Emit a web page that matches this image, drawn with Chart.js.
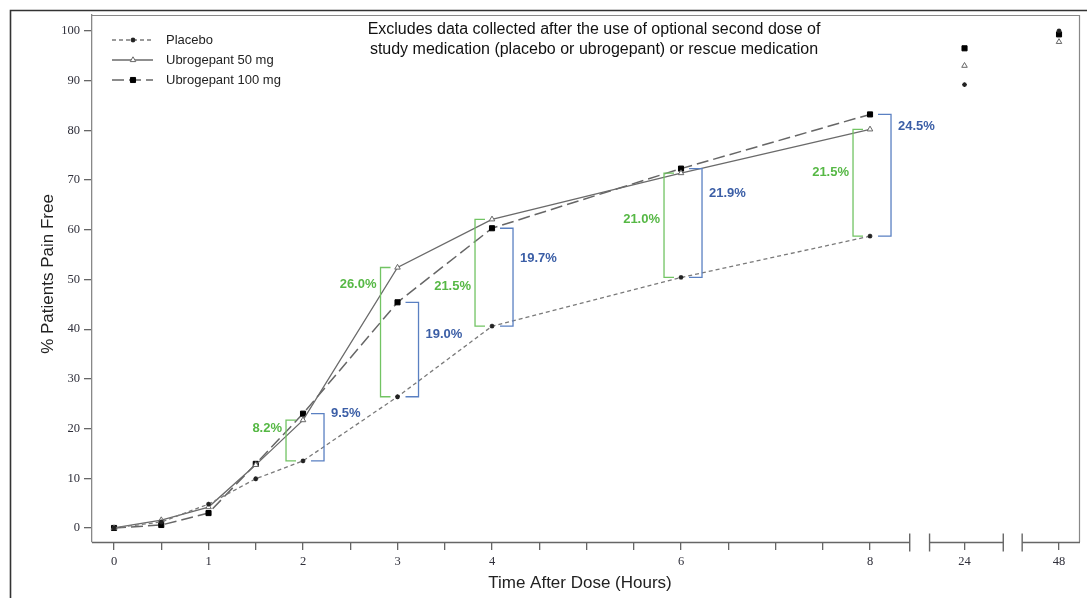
<!DOCTYPE html>
<html>
<head>
<meta charset="utf-8">
<title>Pain freedom over time</title>
<script src="https://cdn.jsdelivr.net/npm/chart.js@4/dist/chart.umd.min.js"></script>
<style>
  body { margin: 0; background: #fff; }
  #wrap { width: 1087px; height: 598px; position: relative; }
</style>
</head>
<body>
<div id="wrap"><canvas id="painFree" width="1087" height="598"></canvas></div>
<script>
// hours after dose; 24 h and 48 h sit past the axis break
const hours = [0, 0.5, 1, 1.5, 2, 3, 4, 6, 8, 24, 48];
const placebo = [0, 1.2, 4.8, 9.9, 13.5, 26.4, 40.6, 50.4, 58.7, 89.2, 100];
const ubro50 = [0, 1.6, 4.2, 12.7, 21.7, 52.4, 62.1, 71.4, 80.2, 93.0, 97.8];
const ubro100 = [0, 0.6, 3.0, 12.9, 23.0, 45.4, 60.3, 72.3, 83.2, 96.5, 99.3];

// treatment differences vs placebo
const compareHours = [2, 3, 4, 6, 8];
const diff50 = ['8.2%', '26.0%', '21.5%', '21.0%', '21.5%'];
const diff100 = ['9.5%', '19.0%', '19.7%', '21.9%', '24.5%'];

const xTickLabels = { 0: '0', 1: '1', 2: '2', 3: '3', 4: '4', 6: '6', 8: '8', 9: '24', 10: '48' };
const yTicks = [0, 10, 20, 30, 40, 50, 60, 70, 80, 90, 100];

const titleLines = [
  'Excludes data collected after the use of optional second dose of',
  'study medication (placebo or ubrogepant) or rescue medication'
];

// axis position: linear up to 8 h, then one slot per late time point
const lateHours = [24, 48];
const axisPos = h => (h <= 8 ? h : 9 + lateHours.indexOf(h));
const toPoints = vals => vals.map((v, i) => ({ x: axisPos(hours[i]), y: v }));

const GREEN = '#56b845', GREEN_LINE = '#72c463';
const BLUE = '#3b5ea6', BLUE_LINE = '#5a80c2';
const SANS = '"Liberation Sans", Arial, sans-serif';
const SERIF = '"Liberation Serif", "Times New Roman", serif';

// label placement along each bracket (0 = top, 1 = bottom)
const greenFrac = [0.2, 0.13, 0.63, 0.44, 0.4];
const blueFrac = [0.0, 0.34, 0.31, 0.23, 0.1];

// no connecting line past the 8 h point
const hideLate = ctx => (ctx.p0DataIndex >= 8 ? 'rgba(0,0,0,0)' : undefined);

const datasets = [
  {
    label: 'Placebo', data: toPoints(placebo),
    borderColor: '#7a7a7a', borderWidth: 1.3, borderDash: [4, 3],
    pointStyle: 'star', pointRadius: 2.4, pointBorderColor: '#222', pointBackgroundColor: '#222',
    pointBorderWidth: 1.3, segment: { borderColor: hideLate }
  },
  {
    label: 'Ubrogepant 50 mg', data: toPoints(ubro50),
    borderColor: '#6a6a6a', borderWidth: 1.3, borderDash: [],
    pointStyle: 'triangle', pointRadius: 3.2, pointBorderColor: '#666', pointBackgroundColor: '#fff',
    pointBorderWidth: 1, segment: { borderColor: hideLate }
  },
  {
    label: 'Ubrogepant 100 mg', data: toPoints(ubro100),
    borderColor: '#666', borderWidth: 1.5, borderDash: [12, 5],
    pointStyle: 'rect', pointRadius: 3.6, pointBorderColor: '#000', pointBackgroundColor: '#000',
    pointBorderWidth: 1, segment: { borderColor: hideLate }
  }
];

function bracket(ctx, xv, xa, yTop, yBot, color) {
  ctx.strokeStyle = color;
  ctx.lineWidth = 1.3;
  ctx.setLineDash([]);
  ctx.beginPath();
  ctx.moveTo(xa, yTop);
  ctx.lineTo(xv, yTop);
  ctx.lineTo(xv, yBot);
  ctx.lineTo(xa, yBot);
  ctx.stroke();
}

const decorations = {
  id: 'decorations',
  beforeDraw(chart) {
    const ctx = chart.ctx;
    ctx.save();
    ctx.strokeStyle = '#333';
    ctx.lineWidth = 1.6;
    ctx.beginPath();
    ctx.moveTo(10.5, chart.height);
    ctx.lineTo(10.5, 10.5);
    ctx.lineTo(chart.width, 10.5);
    ctx.stroke();
    ctx.restore();
  },
  afterDraw(chart) {
    const { ctx, chartArea: a, scales: { x, y } } = chart;
    ctx.save();

    // top and right frame
    ctx.strokeStyle = '#888';
    ctx.lineWidth = 1.2;
    ctx.beginPath();
    ctx.moveTo(a.left, a.top + 0.5);
    ctx.lineTo(a.right - 0.5, a.top + 0.5);
    ctx.lineTo(a.right - 0.5, a.bottom);
    ctx.stroke();

    // broken x axis
    const segs = [[x.min, 8.42], [8.63, 9.41], [9.61, x.max]];
    ctx.strokeStyle = '#666';
    ctx.lineWidth = 1.4;
    const yb = a.bottom + 0.5;
    segs.forEach(([s, e], i) => {
      const p0 = x.getPixelForValue(s), p1 = x.getPixelForValue(e);
      ctx.beginPath();
      ctx.moveTo(p0, yb);
      ctx.lineTo(p1, yb);
      ctx.stroke();
      if (i > 0) { ctx.beginPath(); ctx.moveTo(p0, yb - 9); ctx.lineTo(p0, yb + 9); ctx.stroke(); }
      if (i < segs.length - 1) { ctx.beginPath(); ctx.moveTo(p1, yb - 9); ctx.lineTo(p1, yb + 9); ctx.stroke(); }
    });

    // brackets and difference labels
    ctx.font = 'bold 13px ' + SANS;
    ctx.textBaseline = 'middle';
    compareHours.forEach((h, k) => {
      const i = hours.indexOf(h);
      const px = x.getPixelForValue(axisPos(h));
      const yP = y.getPixelForValue(placebo[i]);
      const y50 = y.getPixelForValue(ubro50[i]);
      const y100 = y.getPixelForValue(ubro100[i]);

      bracket(ctx, px - 17, px - 7, y50, yP, GREEN_LINE);
      bracket(ctx, px + 21, px + 8, y100, yP, BLUE_LINE);

      ctx.fillStyle = GREEN;
      ctx.textAlign = 'right';
      ctx.fillText(diff50[k], px - 21, y50 + greenFrac[k] * (yP - y50));
      ctx.fillStyle = BLUE;
      ctx.textAlign = 'left';
      ctx.fillText(diff100[k], px + 28, y100 + blueFrac[k] * (yP - y100));
    });

    // legend
    chart.data.datasets.forEach((ds, i) => {
      const ly = 40 + 20 * i;
      ctx.strokeStyle = ds.borderColor;
      ctx.lineWidth = ds.borderWidth;
      ctx.setLineDash(ds.borderDash);
      ctx.beginPath();
      ctx.moveTo(112, ly);
      ctx.lineTo(153, ly);
      ctx.stroke();
      ctx.setLineDash([]);
      ctx.strokeStyle = ds.pointBorderColor;
      ctx.fillStyle = ds.pointBackgroundColor;
      ctx.lineWidth = ds.pointBorderWidth;
      Chart.helpers.drawPoint(ctx, { pointStyle: ds.pointStyle, radius: ds.pointRadius, rotation: 0, borderWidth: ds.pointBorderWidth }, 133, ly);
      ctx.fillStyle = '#222';
      ctx.font = '13px ' + SANS;
      ctx.textAlign = 'left';
      ctx.fillText(ds.label, 166, ly);
    });

    // note at top
    ctx.fillStyle = '#111';
    ctx.font = '16px ' + SANS;
    ctx.textAlign = 'center';
    titleLines.forEach((t, i) => ctx.fillText(t, 594, 30 + 20 * i));

    // axis titles
    ctx.fillStyle = '#222';
    ctx.font = '17px ' + SANS;
    ctx.fillText('Time After Dose (Hours)', 580, 583);
    ctx.translate(48, 274);
    ctx.rotate(-Math.PI / 2);
    ctx.fillText('% Patients Pain Free', 0, 0);

    ctx.restore();
  }
};

const halfHourTicks = [];
for (let t = 0; t <= 8; t += 0.5) halfHourTicks.push(t);
halfHourTicks.push(9, 10);

new Chart(document.getElementById('painFree'), {
  type: 'line',
  data: { datasets },
  options: {
    responsive: false,
    animation: false,
    devicePixelRatio: 1,
    layout: { padding: { top: 15, right: 7, left: 0, bottom: 0 } },
    plugins: { legend: { display: false }, tooltip: { enabled: false } },
    scales: {
      x: {
        type: 'linear', min: -0.233, max: 10.222,
        afterBuildTicks: s => { s.ticks = halfHourTicks.map(v => ({ value: v })); },
        afterFit: s => { s.height = 56; },
        ticks: {
          autoSkip: false, maxRotation: 0, padding: 4,
          color: '#2f2f3a', font: { family: SERIF, size: 12.5 },
          callback: v => xTickLabels[v] || ''
        },
        grid: { drawOnChartArea: false, drawTicks: true, tickLength: 8, color: '#666', lineWidth: 1.3 },
        border: { display: false }
      },
      y: {
        type: 'linear', min: -2.82, max: 103.2,
        afterBuildTicks: s => { s.ticks = yTicks.map(v => ({ value: v })); },
        afterFit: s => { s.width = 92; },
        ticks: {
          padding: 4, color: '#2f2f3a', font: { family: SERIF, size: 12.5 }
        },
        grid: { drawOnChartArea: false, drawTicks: true, tickLength: 8, color: '#666', lineWidth: 1.3 },
        border: { display: true, color: '#888', width: 1.3 }
      }
    }
  },
  plugins: [decorations]
});
</script>
</body>
</html>
